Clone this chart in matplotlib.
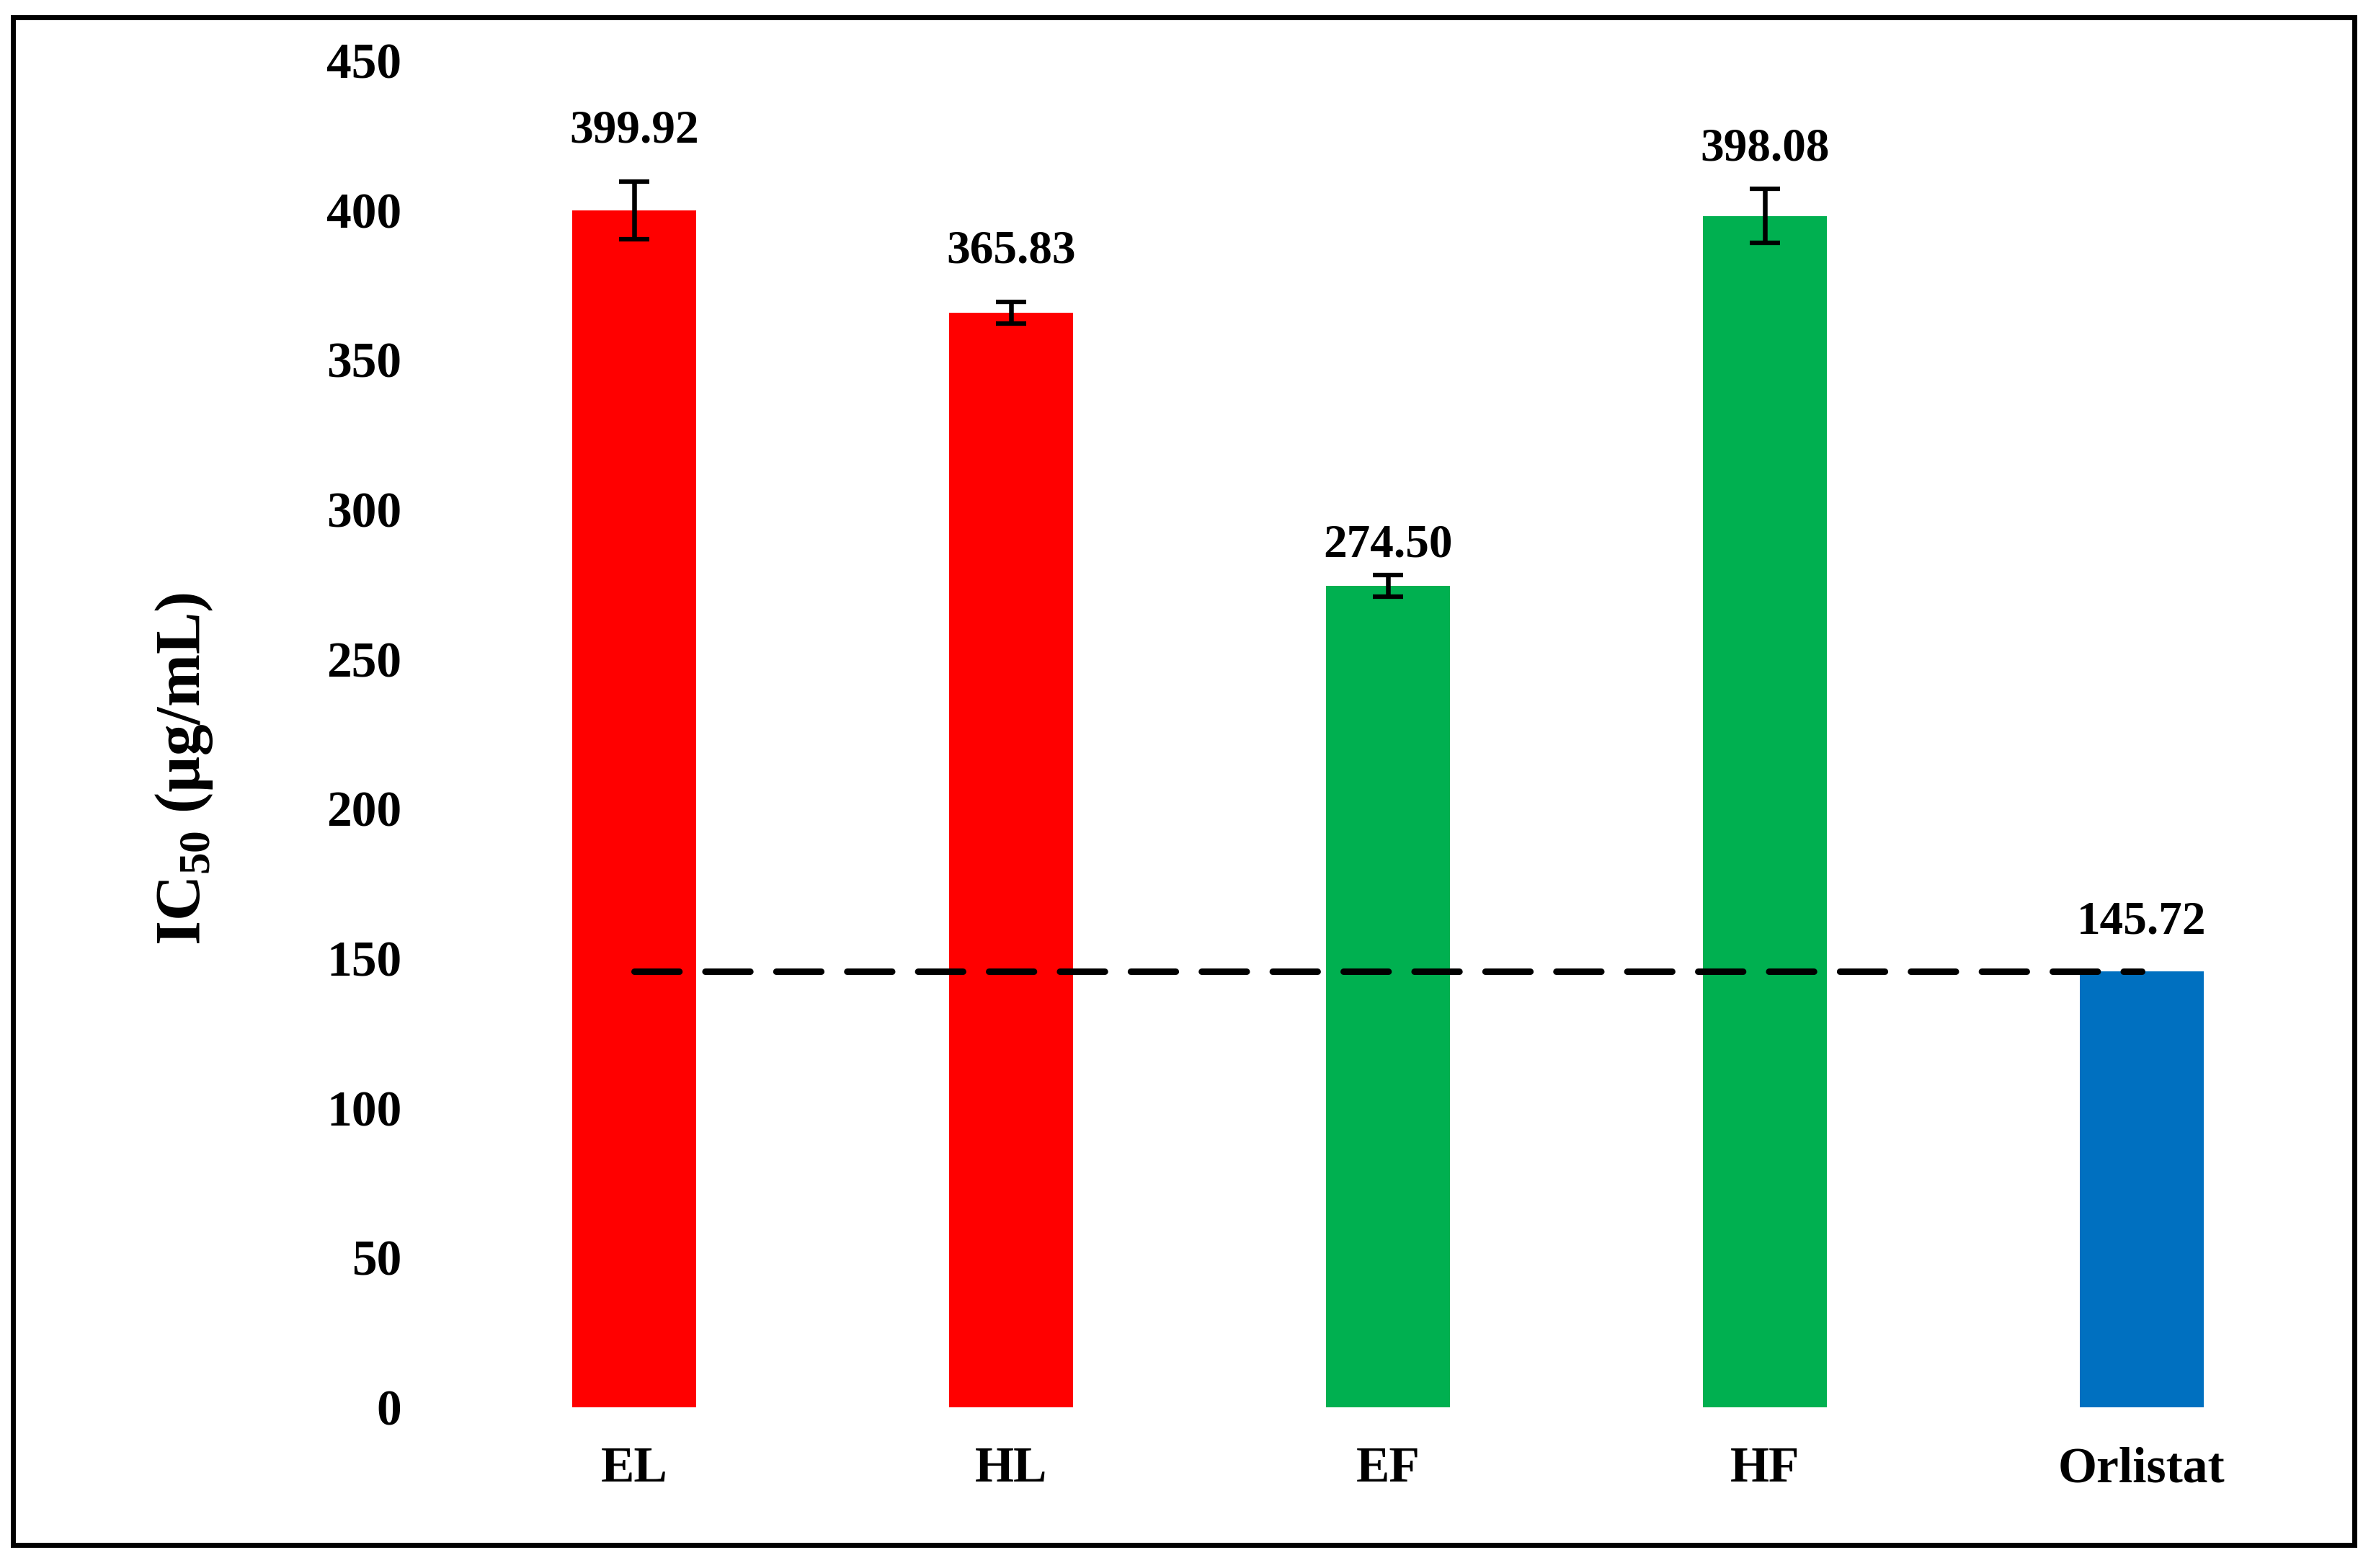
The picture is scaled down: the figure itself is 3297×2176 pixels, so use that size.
import matplotlib
matplotlib.use("Agg")
import matplotlib.pyplot as plt
from matplotlib.patches import Rectangle

samples = ['EL', 'HL', 'EF', 'HF', 'Orlistat']
ic50 = [399.92, 365.83, 274.50, 398.08, 145.72]
sd = [9.6, 3.6, 3.6, 9.0, 0.0]
bar_colors = ['#FF0000', '#FF0000', '#00B050', '#00B050', '#0070C0']
# how far above the bar value each number label sits (data units)
label_offset = [26.5, 20.5, 13.5, 22.5, 16.5]
yticks = [0, 50, 100, 150, 200, 250, 300, 350, 400, 450]

plt.rcParams['font.family'] = 'Liberation Serif'
plt.rcParams['font.weight'] = 'bold'

fig = plt.figure(figsize=(32.97, 21.76), dpi=100)
ax = fig.add_axes([0.1876, 0.1025, 0.7931, 0.8589])

x = list(range(len(samples)))
ax.bar(x, ic50, width=0.329, color=bar_colors, zorder=2)

for i in x:
    if sd[i] > 0:
        ax.errorbar(i, ic50[i], yerr=sd[i], fmt='none', ecolor='black',
                    elinewidth=4.7, capsize=15, capthick=4.5, zorder=3)
    ax.text(i, ic50[i] + label_offset[i], f'{ic50[i]:.2f}', ha='center', va='center',
            fontsize=47, fontweight='bold', zorder=4)

# reference line at orlistat IC50
ax.plot([0, len(samples) - 1], [ic50[-1], ic50[-1]], color='black', lw=6.5,
        dashes=(6.9, 4.0), dash_capstyle='round', zorder=5)

ax.set_xlim(-0.5, len(samples) - 0.5)
ax.set_ylim(0, 450)
ax.set_yticks(yticks)
ax.set_xticks(x)
ax.set_xticklabels(samples)
ax.tick_params(axis='both', length=0, labelsize=50)
ax.tick_params(axis='y', pad=44)
ax.tick_params(axis='x', pad=39)
for lab in ax.get_xticklabels() + ax.get_yticklabels():
    lab.set_fontweight('bold')
for s in ax.spines.values():
    s.set_visible(False)

ax.set_ylabel(r'IC$_\mathregular{50}$ (µg/mL)', fontsize=63, fontweight='bold')
ax.yaxis.set_label_coords(-0.1388, 0.474)
ax.yaxis.label.set_verticalalignment('center')

# outer frame around the whole chart
fig.patches.append(Rectangle((18 / 3297, 1 - 2144 / 2176), (3267 - 18) / 3297, (2144 - 24) / 2176,
                             transform=fig.transFigure, fill=False, edgecolor='black', lw=5))

fig.savefig('out.png', dpi=100)
